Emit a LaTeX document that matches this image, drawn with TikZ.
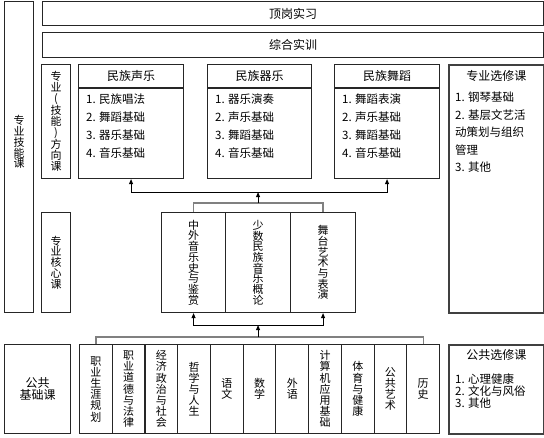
\documentclass[tikz,border=0pt]{standalone}
\usepackage{fontspec}
\setmainfont{Noto Sans CJK SC}
\usetikzlibrary{arrows.meta,positioning,calc}

\begin{document}
\begin{tikzpicture}[
  x=1pt, y=-1pt,
  >={Triangle[length=5pt,width=4pt]},
  box/.style={draw=black!85, line width=1.1pt, inner sep=0pt, anchor=north west},
  bar/.style={box, minimum width=501pt, minimum height=24pt,
              font=\fontsize{12}{14}\selectfont},
  tag/.style={box, minimum width=29pt, align=center,
              font=\fontsize{11}{10.8}\selectfont},
  dir/.style={box, minimum height=114pt},
  core/.style={box, minimum width=65pt, minimum height=100pt, align=center,
               font=\fontsize{11}{10.7}\selectfont},
  pub/.style={box, minimum width=32.73pt, minimum height=89pt, align=center,
              font=\fontsize{11}{11.2}\selectfont},
  elec/.style={box, draw=black!75, line width=1.6pt, minimum width=95pt},
  head/.style={inner sep=0pt, font=\fontsize{12}{14}\selectfont},
  items/.style={inner sep=0pt, anchor=north west, align=left,
                font=\fontsize{11.5}{18}\selectfont},
  vlab/.style={inner sep=0pt, align=center, font=\fontsize{11}{10.8}\selectfont},
  flow/.style={line width=0.9pt},
  link/.style={draw=black!50, line width=1.2pt},
]
\useasboundingbox (0,0) rectangle (544,437);

% ---- practice bars and skill column ---------------------------------------
\node[box, minimum width=29pt, minimum height=311pt] (jn) at (4,1) {};
\node[vlab] (jnl) at ($(jn.center)+(0,-15)$) {专\\业\\技\\能\\课};
\node[bar] (dg) at (42,1)  {顶岗实习};
\node[bar, minimum height=25pt] (zh) at (42,32) {综合实训};

% ---- direction courses ------------------------------------------------------
\node[tag, minimum height=114pt] (fx) at (41,64) {专\\业\\(\\技\\能\\)\\方\\向\\课};
\node[dir, minimum width=105pt] (sy) at (78,64)  {};
\node[dir, minimum width=104pt] (qy) at (207,64) {};
\node[dir, minimum width=105pt] (wd) at (334,64) {};

\foreach \n/\h in {sy/民族声乐, qy/民族器乐, wd/民族舞蹈} {
  \draw[draw=black!85, line width=1.1pt]
    ($(\n.north west)+(0,24)$) -- ($(\n.north east)+(0,24)$);
  \node[head] (\n h) at ($(\n.north)+(0,12)$) {\h};
}
\node[items] (syi) at ($(sy.north west)+(8,30)$)
  {1. 民族唱法\\2. 舞蹈基础\\3. 器乐基础\\4. 音乐基础};
\node[items] (qyi) at ($(qy.north west)+(8,30)$)
  {1. 器乐演奏\\2. 声乐基础\\3. 舞蹈基础\\4. 音乐基础};
\node[items] (wdi) at ($(wd.north west)+(8,30)$)
  {1. 舞蹈表演\\2. 声乐基础\\3. 舞蹈基础\\4. 音乐基础};

% ---- major electives ----------------------------------------------------------
\node[elec, minimum height=248pt] (zx) at (448,64) {};
\node[head] (zxh) at ($(zx.north)+(0,12)$) {专业选修课};
\node[items, font=\fontsize{11.5}{17.5}\selectfont] (zxi) at ($(zx.north west)+(7,28)$)
  {1. 钢琴基础\\2. 基层文艺活\\动策划与组织\\管理\\3. 其他};

% ---- core courses ---------------------------------------------------------------
\node[tag, minimum height=100pt] (hx) at (41,212) {专\\业\\核\\心\\课};
\node[core, minimum width=64pt] (zw) at (161,212) {中\\外\\音\\乐\\史\\与\\鉴\\赏};
\node[core] (ms) at (225,212) {少\\数\\民\\族\\音\\乐\\概\\论};
\node[core] (wt) at (290,212) {舞\\台\\艺\\术\\与\\表\\演};

% core courses feed the direction courses
\path (zw.north) ++(0,-9) coordinate (cl);
\draw[link] (zw.north) -- (cl) -| (wt.north);
\coordinate (uplane) at ($(sy.south)+(0,13)$);
\draw[flow, ->] (cl -| ms.north) -- (ms.north |- uplane);
\draw[flow, <->] (sy.south) -- (sy.south |- uplane) -- (wd.south |- uplane) -- (wd.south);

% ---- public foundation courses ----------------------------------------------
\node[box, minimum width=66pt, minimum height=89pt, align=center,
      font=\fontsize{12}{12.5}\selectfont] (gj) at (4,344) {公共\\基础课};
\foreach \t [count=\i from 0] in {职\\业\\生\\涯\\规\\划, 职\\业\\道\\德\\与\\法\\律,
    经\\济\\政\\治\\与\\社\\会, 哲\\学\\与\\人\\生, 语\\文, 数\\学, 外\\语,
    计\\算\\机\\应\\用\\基\\础, 体\\育\\与\\健\\康, 公\\共\\艺\\术, 历\\史}
  \node[pub] (p\i) at (79+\i*32.73,344) {\t};

\path (p0.north) ++(0,-7) coordinate (pl);
\draw[link] (p0.north) -- (pl) -| (p10.north);
\coordinate (lowlane) at ($(ms.south)+(0,12)$);
\draw[flow, ->] (pl -| ms.south) -- (ms.south |- lowlane);
\draw[flow, <->] (zw.south) -- (zw.south |- lowlane) -- (wt.south |- lowlane) -- (wt.south);

% ---- public electives -----------------------------------------------------------
\node[elec, minimum height=89pt] (gx) at (448,344) {};
\node[head] (gxh) at ($(gx.north)+(0,11)$) {公共选修课};
\node[items, font=\fontsize{11.5}{12}\selectfont] (gxi) at ($(gx.north west)+(7,30)$)
  {1. 心理健康\\2. 文化与风俗\\3. 其他};
\end{tikzpicture}
\end{document}
